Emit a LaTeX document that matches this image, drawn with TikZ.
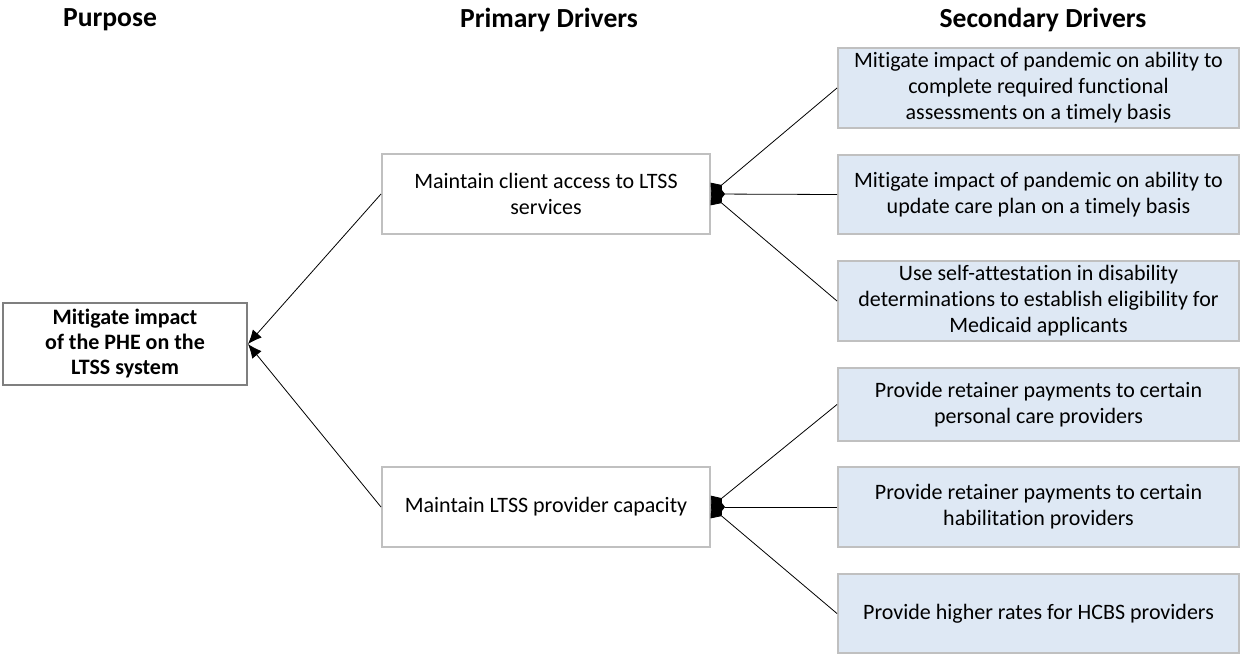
\documentclass[tikz,border=0pt]{standalone}
\usepackage{fontspec}
\setmainfont{Carlito}[Ligatures=NoCommon]
\usetikzlibrary{arrows.meta}
\definecolor{sdblue}{HTML}{DEE8F4}
\definecolor{boxgray}{HTML}{C0C0C0}
\definecolor{purpgray}{HTML}{7F7F7F}
\tikzset{
  head/.style={font=\fontsize{13.8}{16}\selectfont\bfseries},
  purpbox/.style={draw=purpgray,line width=1pt,minimum width=122pt,minimum height=40pt,align=center,font=\fontsize{11}{12.5}\selectfont\bfseries},
  pbox/.style={draw=boxgray,fill=white,line width=1pt,minimum width=164pt,minimum height=40pt,align=center,font=\fontsize{11}{13}\selectfont},
  sbox/.style={draw=boxgray,fill=sdblue,line width=1pt,minimum width=200.5pt,inner sep=0pt,align=center,font=\fontsize{11}{13}\selectfont},
  feed/.style={{Diamond[length=7pt,width=9pt]}-},
  into/.style={-{Latex[length=7pt,width=6pt]}}
}
\begin{document}
\begin{tikzpicture}[x=0.5pt,y=-0.5pt]
\useasboundingbox (0,0) rectangle (1240,654);

\node[head] (hpurp) at (110,20) {Purpose};
\node[head] (hprim) at (549,20) {Primary Drivers};
\node[head] (hsec)  at (1043,20) {Secondary Drivers};

\node[purpbox] (purp) at (125,344) {Mitigate impact\\of the PHE on the\\LTSS system};

\node[pbox] (pd1) at (546,194) {Maintain client access to LTSS\\services};
\node[pbox] (pd2) at (546,507) {Maintain LTSS provider capacity};

\foreach \n/\yy/\hh/\txt in {
  1/88/40/{Mitigate impact of pandemic on ability to\\complete required functional\\assessments on a timely basis},
  2/194.5/39.5/{Mitigate impact of pandemic on ability to\\update care plan on a timely basis},
  3/301/40/{Use self-attestation in disability\\determinations to establish eligibility for\\Medicaid applicants},
  4/404.5/36.5/{Provide retainer payments to certain\\personal care providers},
  5/507/40/{Provide retainer payments to certain\\habilitation providers},
  6/613.5/39.5/{Provide higher rates for HCBS providers}}{
\node[sbox,minimum height=\hh pt] (sd\n) at (1038.5,\yy) {\txt};
}

\foreach \n in {1,2,3}{
\draw[feed] (pd1.east) -- (sd\n.west);
}
\foreach \n in {4,5,6}{
\draw[feed] (pd2.east) -- (sd\n.west);
}

\draw[into] (pd1.west) -- (purp.east);
\draw[into] (pd2.west) -- (purp.east);
\end{tikzpicture}
\end{document}
